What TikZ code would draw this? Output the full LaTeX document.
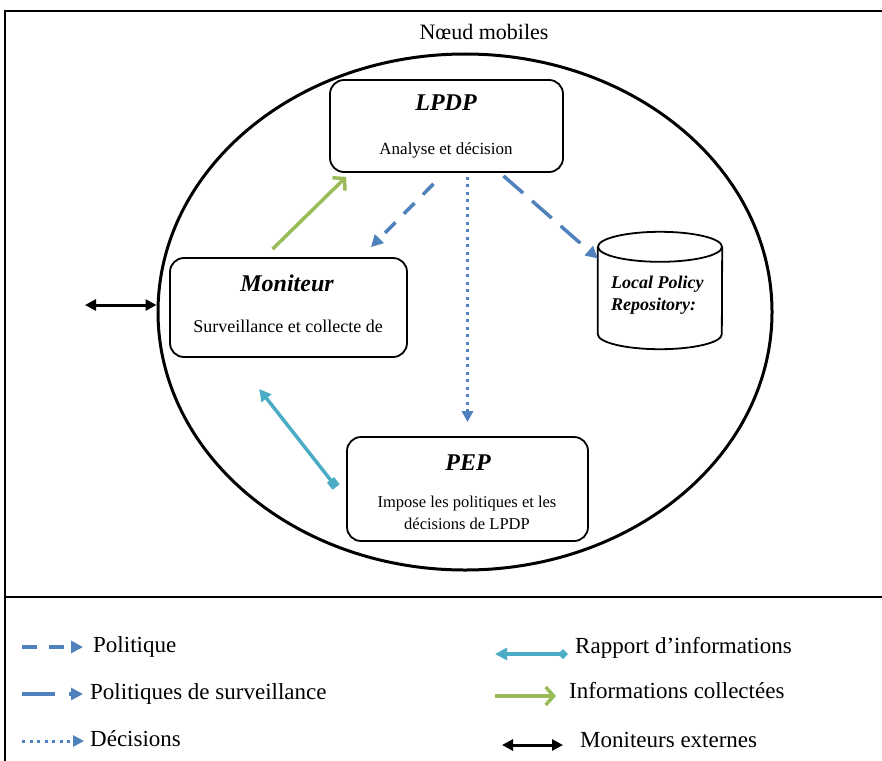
\documentclass[tikz,border=0pt]{standalone}
\usepackage{fontspec}
\setmainfont{Liberation Serif}
\usetikzlibrary{arrows.meta,shapes.geometric,calc}
\definecolor{pblue}{HTML}{4F81BD}
\definecolor{pgreen}{HTML}{9BBB59}
\definecolor{pcyan}{HTML}{4BACC6}
\newcommand{\fs}[1]{\fontsize{#1}{#1}\selectfont}
\begin{document}
\begin{tikzpicture}[x=1pt,y=-1pt,
  boxnode/.style={draw, line width=1.8pt, rounded corners=14pt, inner sep=0pt},
  ttl/.style={font=\fs{24}\bfseries\itshape, inner sep=0pt},
  dsc/.style={inner sep=0pt, align=center},
  leg/.style={font=\fs{23}, anchor=west, inner sep=0pt, text height=16pt, text depth=5pt},
  bluetip/.style={-{Triangle[length=12pt,width=12pt]}},
  polline/.style={pblue, line width=3.5pt, dash pattern=on 15pt off 12pt, bluetip},
  survline/.style={pblue, line width=3.5pt, dash pattern=on 26pt off 12pt, bluetip},
  decline/.style={pblue, line width=3pt, dash pattern=on 3pt off 4.5pt, -{Triangle[length=11pt,width=11pt]}},
  greenline/.style={pgreen, line width=3.5pt, -{Straight Barb[length=8pt,width=18pt,line width=3.5pt]}},
  cyanline/.style={pcyan, line width=3.5pt, {Triangle[length=12pt,width=12pt]}-{Square[length=9pt,width=9pt]}},
  blackline/.style={black, line width=3pt, {Triangle[length=11pt,width=11pt]}-{Triangle[length=11pt,width=11pt]}}
]
\useasboundingbox (0,0) rectangle (882,760);
\clip (0,0) rectangle (882,760);
\fill[white] (0,0) rectangle (882,760);
% frame
\draw[line width=2pt] (5,780) -- (5,11) -- (900,11);
\draw[line width=2pt] (5,597) -- (900,597);
\node[font=\fs{22}, inner sep=0pt] (title) at (484,32) {Nœud mobiles};
% ellipse
\node[ellipse, draw, line width=3pt, minimum width=614pt, minimum height=516pt, inner sep=0pt] (ell) at (465,312) {};
% boxes
\node[boxnode, minimum width=233pt, minimum height=92pt] (lpdp) at (446.5,126) {};
\node[ttl] (lpdpT) at (446,103) {LPDP};
\node[dsc, font=\fs{17}] (lpdpD) at (446,150) {Analyse et décision};
\node[boxnode, minimum width=237pt, minimum height=99pt] (mon) at (288.5,307.5) {};
\node[ttl] (monT) at (287,283) {Moniteur};
\node[dsc, font=\fs{18}] (monD) at (288,326) {Surveillance et collecte de};
\node[boxnode, minimum width=241pt, minimum height=104pt] (pep) at (467.5,489) {};
\node[ttl] (pepT) at (468,463) {PEP};
\node[dsc, font=\fs{16.5}] (pepD) at (467,513) {Impose les politiques et les\\[5pt]décisions de LPDP};
% cylinder (Local Policy Repository)
\node[minimum width=124pt, minimum height=117pt, inner sep=0pt] (lpr) at (660,290.5) {};
\draw[line width=1.8pt, fill=white] ($(lpr.north west)+(0,15)$) -- ($(lpr.south west)+(0,-15)$)
  arc[start angle=180, end angle=0, x radius=62, y radius=15] -- ($(lpr.north east)+(0,15)$);
\draw[line width=1.8pt] ($(lpr.north)+(0,15)$) ellipse[x radius=62, y radius=15];
\node[font=\fs{18}\bfseries\itshape, align=left, inner sep=0pt, anchor=west] (lprT) at (611,295) {Local Policy\\[4pt]Repository:};
% arrows
\draw[greenline] ($(mon.north)+(-16,-8)$) -- ($(lpdp.south west)+(17,4)$);
\draw[polline] ($(lpdp.south)+(-13,11)$) -- ($(mon.north east)+(-37,-10)$);
\draw[decline] ($(lpdp.south)+(21,4)$) -- ($(pep.north)+(0,-14)$);
\draw[survline] ($(lpdp.south)+(57,3)$) -- ($(lpr.west)+(0,-32)$);
\draw[cyanline] ($(mon.south west)+(90,31)$) -- ($(pep.west)+(-10,-2)$);
\coordinate (ext) at (85,305);
\draw[blackline] (ext) -- (ext -| ell.west);
% legend
\coordinate (l1a) at (22,647); \node[leg] (l1) at (93,647) {Politique};
\draw[polline] (l1a) -- (l1.west -| 83,0);
\coordinate (l2a) at (22,694); \node[leg] (l2) at (90,694) {Politiques de surveillance};
\draw[pblue, line width=3.5pt, dash pattern=on 33pt off 14pt, bluetip] (l2a) -- (l2.west -| 83,0);
\coordinate (l3a) at (22,741); \node[leg] (l3) at (90,741) {Décisions};
\draw[decline] (l3a) -- (l3.west -| 84,0);
\coordinate (r1a) at (495,654); \coordinate (r1b) at (568,654);
\node[leg] (r1) at (575,648) {Rapport d’informations};
\draw[pcyan, line width=3.5pt, {Triangle[length=12pt,width=12pt]}-{Turned Square[length=10pt,width=10pt]}] (r1a) -- (r1b);
\coordinate (r2a) at (495,696); \coordinate (r2b) at (556,696);
\node[leg] (r2) at (569,693) {Informations collectées};
\draw[greenline] (r2a) -- (r2b);
\coordinate (r3a) at (502,745); \coordinate (r3b) at (563,745);
\node[leg] (r3) at (580,742) {Moniteurs externes};
\draw[blackline] (r3a) -- (r3b);
\end{tikzpicture}
\end{document}
